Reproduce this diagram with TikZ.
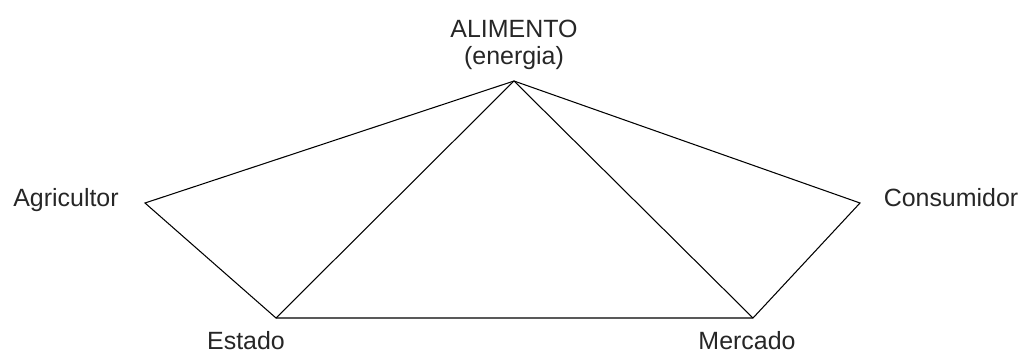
\documentclass[tikz,border=0pt]{standalone}
\usepackage{fontspec}
\setmainfont{Liberation Sans}
\usepackage{tikz}
\usetikzlibrary{positioning}

\begin{document}
\begin{tikzpicture}[
  x=0.02cm, y=-0.02cm,
  lbl/.style={font=\fontsize{14.2}{16}\selectfont, text=black!85, inner sep=0pt, anchor=base},
  edge/.style={line width=0.6pt}
]
  \useasboundingbox (0,0) rectangle (1019,352);
  % vertices
  \coordinate (ali) at (514,81);
  \coordinate (agr) at (145,203);
  \coordinate (con) at (860,203);
  \coordinate (est) at (276,318);
  \coordinate (mer) at (753,318);
  % labels
  \node[lbl] (aliT) at (514,37) {ALIMENTO};
  \node[lbl, below=0.56cm of aliT.base, anchor=base] (aliE) {(energia)};
  \node[lbl] (agrT) at (66,206) {Agricultor};
  \node[lbl] (conT) at (951,206) {Consumidor};
  \node[lbl] (estT) at (246,349) {Estado};
  \node[lbl] (merT) at (747,349) {Mercado};
  % edges
  \draw[edge] (ali) -- (agr) -- (est) -- (mer) -- (con) -- cycle;
  \draw[edge] (est) -- (ali) -- (mer);
\end{tikzpicture}
\end{document}
